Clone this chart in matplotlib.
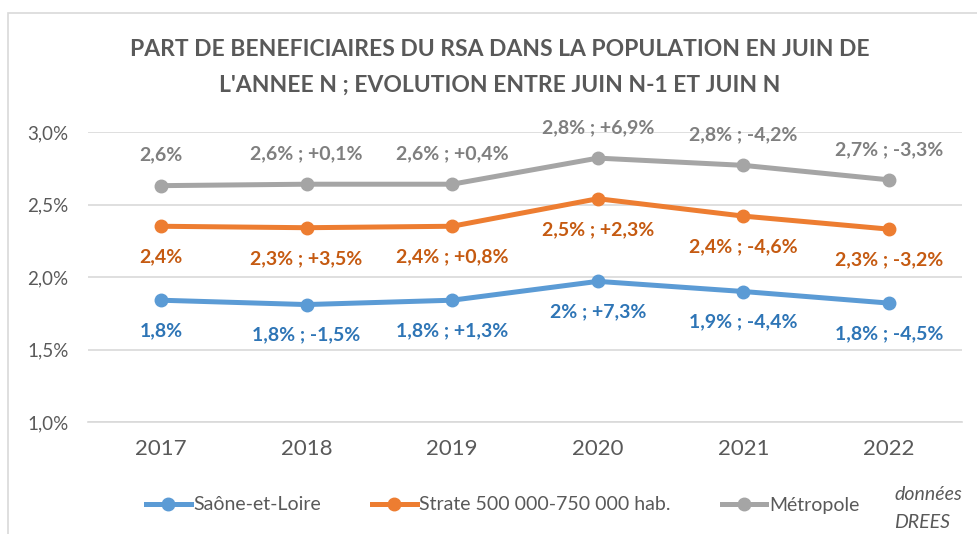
import matplotlib.pyplot as plt
from matplotlib.patches import Rectangle
from matplotlib.ticker import FuncFormatter
from matplotlib.lines import Line2D

plt.rcParams['font.family'] = ['Lato', 'DejaVu Sans']

annees = ['2017', '2018', '2019', '2020', '2021', '2022']

saone = [1.84, 1.81, 1.84, 1.97, 1.90, 1.82]
strate = [2.35, 2.34, 2.35, 2.54, 2.42, 2.33]
metropole = [2.63, 2.64, 2.64, 2.82, 2.77, 2.67]

lab_saone = ['1,8%', '1,8% ; -1,5%', '1,8% ; +1,3%', '2% ; +7,3%', '1,9% ; -4,4%', '1,8% ; -4,5%']
lab_strate = ['2,4%', '2,3% ; +3,5%', '2,4% ; +0,8%', '2,5% ; +2,3%', '2,4% ; -4,6%', '2,3% ; -3,2%']
lab_metro = ['2,6%', '2,6% ; +0,1%', '2,6% ; +0,4%', '2,8% ; +6,9%', '2,8% ; -4,2%', '2,7% ; -3,3%']

series = [
    ('Saône-et-Loire', saone, lab_saone, '#5B9BD5', '#2E75B6', -1),
    ('Strate 500 000-750 000 hab.', strate, lab_strate, '#ED7D31', '#C55A11', -1),
    ('Métropole', metropole, lab_metro, '#A5A5A5', '#7F7F7F', 1),
]

fig = plt.figure(figsize=(9.78, 5.34), dpi=100)
# cadre du graphique (coupé à droite et en bas)
fig.patches.append(Rectangle((8 / 978, -0.1), 1.2, 1 - 13 / 534 + 0.1, transform=fig.transFigure,
                             fill=False, edgecolor='#D9D9D9', linewidth=1.2))

ax = fig.add_axes([0.090, 0.2097, 0.8936, 0.5431])
x = range(len(annees))

for nom, vals, labs, col, lcol, sens in series:
    ax.plot(x, vals, color=col, linewidth=3.6, marker='o', markersize=9, solid_capstyle='round', zorder=3)
    for i, (v, t) in enumerate(zip(vals, labs)):
        ax.annotate(t, (i, v), xytext=(0, 22 * sens), textcoords='offset points',
                    ha='center', va='center', fontsize=14, fontweight='bold', color=lcol,
                    annotation_clip=False)

ax.set_xlim(-0.5, len(annees) - 0.5)
ax.set_ylim(1.0, 3.0)
ax.set_yticks([1.0, 1.5, 2.0, 2.5, 3.0])
ax.yaxis.set_major_formatter(FuncFormatter(lambda v, p: f'{v:.1f}%'.replace('.', ',')))
ax.set_xticks(list(x))
ax.set_xticklabels(annees)
ax.grid(axis='y', color='#D9D9D9', linewidth=1.2)
ax.set_axisbelow(True)
for s in ['top', 'right', 'left']:
    ax.spines[s].set_visible(False)
ax.spines['bottom'].set_color('#D9D9D9')
ax.spines['bottom'].set_linewidth(1.2)
ax.tick_params(axis='both', length=0, labelcolor='#595959')
ax.tick_params(axis='x', pad=12, labelsize=16)
ax.tick_params(axis='y', pad=14, labelsize=13.5)

fig.text(0.511, 1 - 50 / 534, 'PART DE BENEFICIAIRES DU RSA DANS LA POPULATION EN JUIN DE',
         ha='center', va='center', fontsize=16.5, fontweight='bold', color='#595959')
fig.text(0.511, 1 - 85 / 534, "L'ANNEE N ; EVOLUTION ENTRE JUIN N-1 ET JUIN N",
         ha='center', va='center', fontsize=16.5, fontweight='bold', color='#595959')

handles = [Line2D([], [], color=c, linewidth=3.6, marker='o', markersize=9) for _, _, _, c, _, _ in series]
fig.legend(handles, [s[0] for s in series], loc='center', bbox_to_anchor=(0.514, 1 - 505 / 534),
           ncol=3, frameon=False, fontsize=14, labelcolor='#595959', handlelength=2.3,
           handletextpad=0.15, columnspacing=2.6)

fig.text(894 / 978, 1 - 494 / 534, 'données', ha='left', va='center', fontsize=14, style='italic', color='#595959')
fig.text(894 / 978, 1 - 522 / 534, 'DREES', ha='left', va='center', fontsize=14, style='italic', color='#595959')

fig.savefig('out.png', dpi=100)
